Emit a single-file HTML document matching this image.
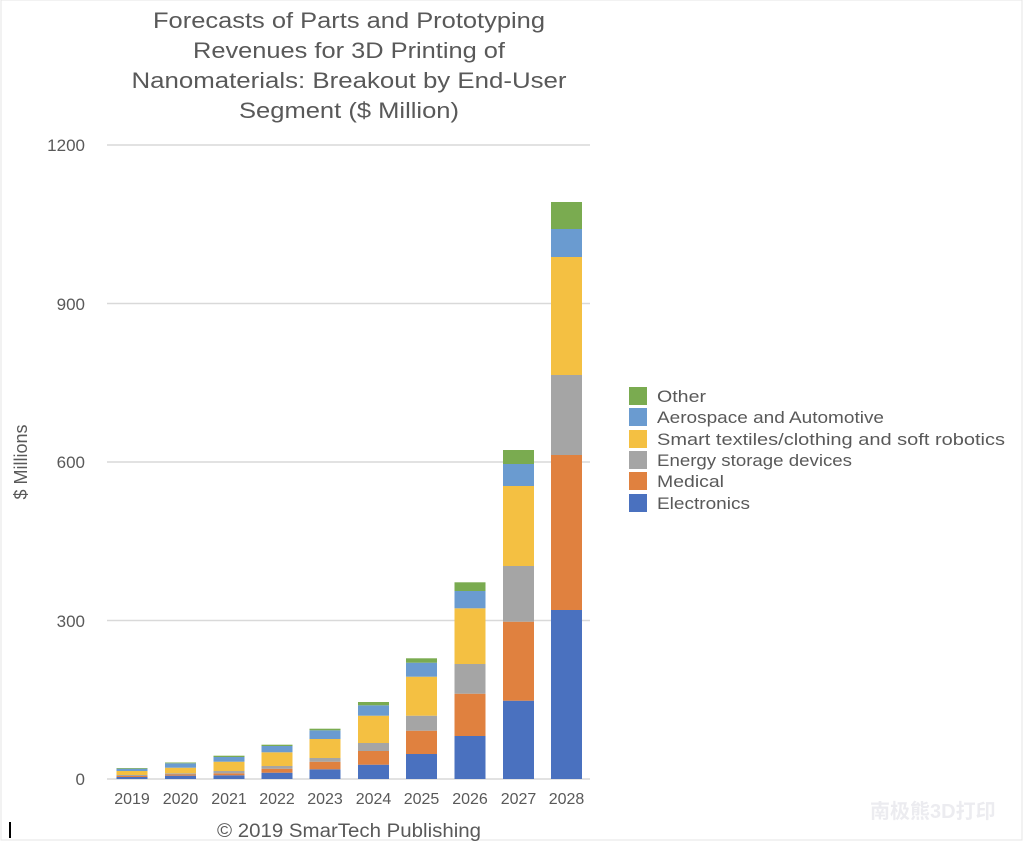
<!DOCTYPE html>
<html><head><meta charset="utf-8"><style>
html,body{margin:0;padding:0;background:#fff;}
svg{display:block;font-family:"Liberation Sans","Noto Sans CJK SC",sans-serif;}
</style></head><body>
<svg width="1024" height="841" viewBox="0 0 1024 841" xmlns="http://www.w3.org/2000/svg">
<rect x="0" y="0" width="1024" height="841" fill="#fff"/>
<rect x="1" y="0" width="1021" height="840" fill="none" stroke="#e4e4e4" stroke-width="1"/>
<g fill="#595959" font-size="22" text-anchor="middle" lengthAdjust="spacingAndGlyphs">
<text x="349" y="28" textLength="392" lengthAdjust="spacingAndGlyphs">Forecasts of Parts and Prototyping</text>
<text x="349" y="58" textLength="312" lengthAdjust="spacingAndGlyphs">Revenues for 3D Printing of</text>
<text x="349" y="88" textLength="435" lengthAdjust="spacingAndGlyphs">Nanomaterials:  Breakout by End-User</text>
<text x="349" y="118" textLength="220" lengthAdjust="spacingAndGlyphs">Segment ($ Million)</text>
</g>
<g stroke="#d9d9d9" stroke-width="1.5">
<line x1="107" y1="145" x2="590" y2="145"/>
<line x1="107" y1="303.5" x2="590" y2="303.5"/>
<line x1="107" y1="462" x2="590" y2="462"/>
<line x1="107" y1="620.5" x2="590" y2="620.5"/>
<line x1="107" y1="779" x2="590" y2="779"/>
</g>
<g fill="#595959" font-size="17" text-anchor="end">
<text x="85" y="151">1200</text>
<text x="85" y="310">900</text>
<text x="85" y="468">600</text>
<text x="85" y="627">300</text>
<text x="85" y="785">0</text>
</g>
<text transform="translate(27,462) rotate(-90)" fill="#595959" font-size="18" text-anchor="middle">$ Millions</text>
<g id="bars"></g>
<g fill="#595959" font-size="16" text-anchor="middle">
<text x="132" y="804">2019</text><text x="180.5" y="804">2020</text><text x="229" y="804">2021</text>
<text x="277" y="804">2022</text><text x="325" y="804">2023</text><text x="373.5" y="804">2024</text>
<text x="421.5" y="804">2025</text><text x="470" y="804">2026</text><text x="518.5" y="804">2027</text>
<text x="566.5" y="804">2028</text>
</g>
<text x="349" y="837" fill="#595959" font-size="19" text-anchor="middle" textLength="264" lengthAdjust="spacingAndGlyphs">© 2019 SmarTech Publishing</text>
<g font-size="17" fill="#595959">
<rect x="629" y="387" width="18" height="18" fill="#7aab50"/><text x="657" y="402" textLength="49" lengthAdjust="spacingAndGlyphs">Other</text>
<rect x="629" y="408" width="18" height="18" fill="#6a9bd0"/><text x="657" y="423" textLength="227" lengthAdjust="spacingAndGlyphs">Aerospace and Automotive</text>
<rect x="629" y="430" width="18" height="18" fill="#f4c042"/><text x="657" y="445" textLength="348" lengthAdjust="spacingAndGlyphs">Smart textiles/clothing and soft robotics</text>
<rect x="629" y="451" width="18" height="18" fill="#a5a5a5"/><text x="657" y="466" textLength="195" lengthAdjust="spacingAndGlyphs">Energy storage devices</text>
<rect x="629" y="472" width="18" height="18" fill="#e0813f"/><text x="657" y="487" textLength="67" lengthAdjust="spacingAndGlyphs">Medical</text>
<rect x="629" y="494" width="18" height="18" fill="#4a71bf"/><text x="657" y="509" textLength="93" lengthAdjust="spacingAndGlyphs">Electronics</text>
</g>
<text x="870" y="818" fill="#ececf0" font-size="20" font-weight="bold">南极熊3D打印</text>
<rect x="9" y="822" width="2" height="16" fill="#000"/>
<script>
var cs=["#4a71bf","#e0813f","#a5a5a5","#f4c042","#6a9bd0","#7aab50"];
var cx=[132,180.5,229,277,325,373.5,421.5,470,518.5,566.5];
var tops=[[777,776,775,771,768.7,768],[775.7,774.5,773.3,767.7,763.3,762.5],[775.3,773.3,771,761.7,757,755.7],[772.7,768.7,766,752.3,746,744.7],[769.3,761.7,758,739,730.3,728.7],[764.7,751,743,715.7,705.3,702],[754,730.7,715.7,676.7,662.7,658.3],[736,693.7,664,608.3,591,582.3],[700.7,621.7,566,486,464,450],[610,455,375,257,229,202]];
var g=document.getElementById("bars"),ns="http://www.w3.org/2000/svg";
for(var i=0;i<10;i++){var b=779;for(var j=0;j<6;j++){var t=tops[i][j];var r=document.createElementNS(ns,"rect");r.setAttribute("x",cx[i]-15.5);r.setAttribute("width",31);r.setAttribute("y",t);r.setAttribute("height",Math.max(0,b-t));r.setAttribute("fill",cs[j]);g.appendChild(r);b=t;}}
</script>
</svg>
</body></html>
